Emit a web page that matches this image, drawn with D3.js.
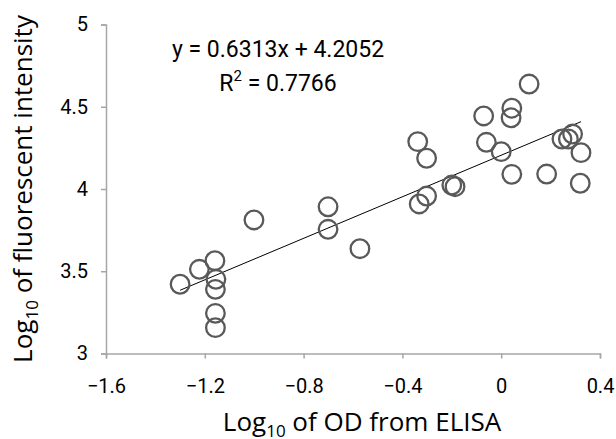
<!DOCTYPE html>
<html>
<head>
<meta charset="utf-8">
<script src="https://cdn.jsdelivr.net/npm/d3@7"></script>
<style>
  body { margin: 0; background: #fff; }
  svg { display: block; }
</style>
</head>
<body>
<svg id="chart" width="616" height="439"></svg>
<script>
"use strict"

// log10 OD (x) and log10 fluorescent intensity (y)
const odValues = [-1.300, -1.222, -1.159, -1.155, -1.157, -1.157, -1.157, -1.001,
    -0.701, -0.701, -0.572, -0.338, -0.302, -0.302, -0.332, -0.200, -0.187,
    -0.071, -0.060, 0.000, 0.043, 0.040, 0.113, 0.043, 0.184, 0.246, 0.272,
    0.289, 0.323, 0.320]
const fluoValues = [3.421, 3.512, 3.564, 3.451, 3.390, 3.244, 3.157, 3.812,
    3.892, 3.755, 3.637, 4.288, 4.187, 3.957, 3.909, 4.024, 4.014,
    4.444, 4.284, 4.227, 4.491, 4.433, 4.638, 4.089, 4.091, 4.304, 4.304,
    4.334, 4.221, 4.035]
const xTicks = [-1.6, -1.2, -0.8, -0.4, 0, 0.4]
const yTicks = [3, 3.5, 4, 4.5, 5]
const slope = 0.6313
const intercept = 4.2052

const points = odValues.map((x, i) => ({x: x, y: fluoValues[i]}))

const svg = d3.select("#chart")
const margins = {top: 24.5, left: 106, right: 16, bottom: 85.5}
const width = 616 - margins.left - margins.right
const height = 439 - margins.top - margins.bottom

const xScale = d3.scaleLinear().domain([-1.6, 0.4]).range([0, width])
const yScale = d3.scaleLinear().domain([3, 5]).range([height, 0])

const plot = svg.append("g").attr("transform", `translate(${margins.left},${margins.top})`)

const minus = s => s.replace("-", "\u2212")

// x axis
const xAxis = plot.append("g")
    .attr("transform", `translate(0,${height})`)
    .call(d3.axisBottom(xScale).tickValues(xTicks).tickSizeOuter(0).tickSize(5)
        .tickFormat(d => minus(d3.format("")(d))))
xAxis.select(".domain").attr("stroke", "#a6a6a6").attr("stroke-width", 1.5)
xAxis.selectAll(".tick line").attr("stroke", "#a6a6a6").attr("stroke-width", 1.5)
xAxis.selectAll(".tick text")
    .attr("fill", "#000")
    .attr("font-family", "Roboto, sans-serif")
    .attr("font-size", 20)
    .attr("dy", null)
    .attr("y", 39)

// y axis
const yAxis = plot.append("g")
    .call(d3.axisLeft(yScale).tickValues(yTicks).tickSizeOuter(0).tickSize(5)
        .tickFormat(d3.format("")))
yAxis.select(".domain").attr("stroke", "#a6a6a6").attr("stroke-width", 1.5)
yAxis.selectAll(".tick line").attr("stroke", "#a6a6a6").attr("stroke-width", 1.5)
yAxis.selectAll(".tick text")
    .attr("fill", "#000")
    .attr("font-family", "Roboto, sans-serif")
    .attr("font-size", 20)
    .attr("x", -18)

// trend line over the data range
const xExtent = d3.extent(odValues)
plot.append("line")
    .attr("x1", xScale(xExtent[0]))
    .attr("y1", yScale(slope * xExtent[0] + intercept))
    .attr("x2", xScale(xExtent[1]))
    .attr("y2", yScale(slope * xExtent[1] + intercept))
    .attr("stroke", "#000")
    .attr("stroke-width", 1)

// markers
plot.selectAll("circle.pt")
    .data(points)
    .join("circle")
    .attr("class", "pt")
    .attr("cx", d => xScale(d.x))
    .attr("cy", d => yScale(d.y))
    .attr("r", 9.3)
    .attr("fill", "none")
    .attr("stroke", "#595959")
    .attr("stroke-width", 2.3)

// equation
svg.append("text")
    .attr("x", 278).attr("y", 57)
    .attr("text-anchor", "middle")
    .attr("font-family", "Roboto, sans-serif")
    .attr("font-size", 23)
    .text(`y = ${slope}x + ${intercept}`)

const r2 = svg.append("text")
    .attr("x", 278).attr("y", 91)
    .attr("text-anchor", "middle")
    .attr("font-family", "Roboto, sans-serif")
    .attr("font-size", 23)
r2.append("tspan").text("R")
r2.append("tspan").attr("font-size", 15).attr("dy", -10).text("2")
r2.append("tspan").attr("dy", 10).text(" = 0.7766")

// axis titles
const xTitle = svg.append("text")
    .attr("x", 362).attr("y", 431)
    .attr("text-anchor", "middle")
    .attr("font-family", "'Open Sans', sans-serif")
    .attr("font-size", 26)
xTitle.append("tspan").text("Log")
xTitle.append("tspan").attr("font-size", 17).attr("dy", 6).text("10")
xTitle.append("tspan").attr("dy", -6).text(" of OD from ELISA")

const yTitle = svg.append("text")
    .attr("transform", "translate(32,189) rotate(-90)")
    .attr("text-anchor", "middle")
    .attr("font-family", "'Open Sans', sans-serif")
    .attr("font-size", 26)
yTitle.append("tspan").text("Log")
yTitle.append("tspan").attr("font-size", 17).attr("dy", 6).text("10")
yTitle.append("tspan").attr("dy", -6).text(" of fluorescent intensity")
</script>
</body>
</html>
